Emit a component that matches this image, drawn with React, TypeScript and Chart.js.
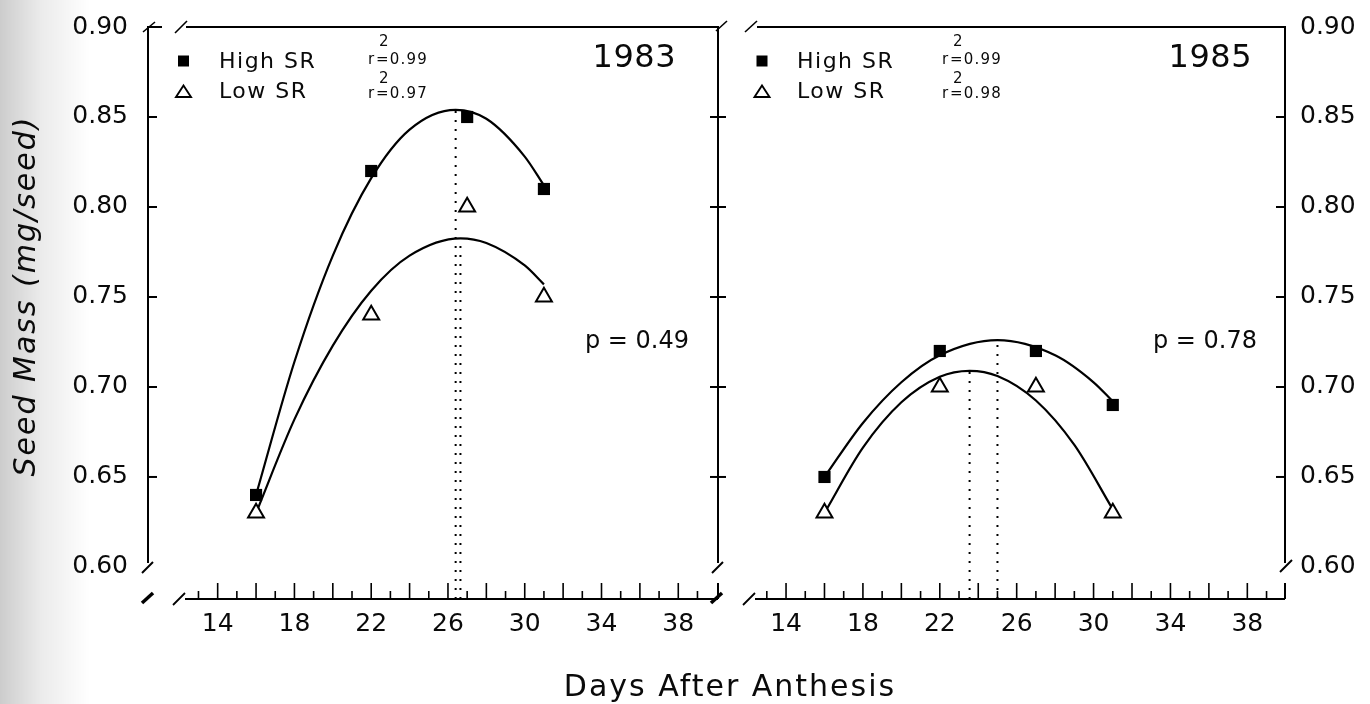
import React, { useEffect, useRef } from 'react';
import { Chart, registerables } from 'chart.js';

Chart.register(...registerables);

// ---------- data ----------
const X_TICKS = [14, 18, 22, 26, 30, 34, 38];
const Y_TICKS = [0.6, 0.65, 0.7, 0.75, 0.8, 0.85, 0.9];
const Y_MIN = 0.5822;
const Y_MAX = 0.9;

const DAYS = [16, 22, 27, 31];
const HIGH_1983 = [0.64, 0.82, 0.85, 0.81];
const LOW_1983 = [0.63, 0.74, 0.8, 0.75];
const HIGH_1985 = [0.65, 0.72, 0.72, 0.69];
const LOW_1985 = [0.63, 0.7, 0.7, 0.63];

// fitted curves
const FIT_HIGH_1983_X = [16, 18, 20, 22, 24, 26.4, 28, 30, 31];
const FIT_HIGH_1983_Y = [0.64, 0.714, 0.773, 0.816, 0.843, 0.854, 0.849, 0.828, 0.812];
const FIT_LOW_1983_X = [16, 18, 20, 22, 24, 26.65, 28, 30, 31];
const FIT_LOW_1983_Y = [0.63, 0.682, 0.723, 0.7535, 0.773, 0.7826, 0.78, 0.7675, 0.757];
const FIT_HIGH_1985_X = [16, 18, 20, 22, 25, 28, 30, 31];
const FIT_HIGH_1985_Y = [0.65, 0.68, 0.7026, 0.7176, 0.726, 0.7176, 0.7026, 0.692];
const FIT_LOW_1985_X = [16, 18, 20, 22, 23.55, 25, 27, 29, 31];
const FIT_LOW_1985_Y = [0.63, 0.6663, 0.6915, 0.7057, 0.709, 0.7061, 0.6925, 0.6678, 0.632];

// vertical dotted lines to the curve maxima [high, low]
const PEAK_X_1983 = [26.4, 26.65];
const PEAK_Y_1983 = [0.854, 0.7826];
const PEAK_X_1985 = [25.0, 23.55];
const PEAK_Y_1985 = [0.726, 0.709];

const SERIES = ['High SR', 'Low SR'];
const YEARS = ['1983', '1985'];
const R2_1983 = ['0.99', '0.97'];
const R2_1985 = ['0.99', '0.98'];
const P_VALUES = ['0.49', '0.78'];
const X_TITLE = 'Days After Anthesis';
const Y_TITLE = 'Seed Mass (mg/seed)';

// ---------- style ----------
const FONT = '"DejaVu Sans", "Liberation Sans", sans-serif';
const INK = '#0a0a0a';
const W = 1370;
const H = 704;

const PANELS = [
  {
    year: YEARS[0], high: HIGH_1983, low: LOW_1983,
    fhx: FIT_HIGH_1983_X, fhy: FIT_HIGH_1983_Y, flx: FIT_LOW_1983_X, fly: FIT_LOW_1983_Y,
    px: PEAK_X_1983, py: PEAK_Y_1983, r2: R2_1983, p: P_VALUES[0],
    xMin: 10.37, xMax: 40.07,
    pad: { left: 0, right: 652, top: 27, bottom: 0 }, yPos: 'left', yWidth: 148, yPad: 20,
    off: { sq: 35.5, text: 71, r: 220, year: 528, p: 437 },
  },
  {
    year: YEARS[1], high: HIGH_1985, low: LOW_1985,
    fhx: FIT_HIGH_1985_X, fhy: FIT_HIGH_1985_Y, flx: FIT_LOW_1985_X, fly: FIT_LOW_1985_Y,
    px: PEAK_X_1985, py: PEAK_Y_1985, r2: R2_1985, p: P_VALUES[1],
    xMin: 10.46, xMax: 39.96,
    pad: { left: 718, right: 0, top: 27, bottom: 0 }, yPos: 'right', yWidth: 85, yPad: 15,
    off: { sq: 44, text: 79, r: 224, year: 534, p: 435 },
  },
];

function decorPlugin(idx: number) {
  const P = PANELS[idx];
  return {
    id: 'decor' + idx,
    beforeDraw(chart: any) {
      if (idx !== 0) return;
      const ctx = chart.ctx;
      ctx.save();
      const g = ctx.createLinearGradient(0, 0, 90, 0);
      g.addColorStop(0, 'rgba(0,0,0,0.2)');
      g.addColorStop(0.45, 'rgba(0,0,0,0.08)');
      g.addColorStop(1, 'rgba(0,0,0,0)');
      ctx.fillStyle = g;
      ctx.fillRect(0, 0, 90, H);
      ctx.restore();
    },
    afterDraw(chart: any) {
      const ctx = chart.ctx;
      const a = chart.chartArea;
      const xs = chart.scales.x;
      const ys = chart.scales.y;
      const L = a.left, R = a.right, T = a.top, B = a.bottom;
      const y60 = ys.getPixelForValue(Y_TICKS[0]);
      ctx.save();
      ctx.strokeStyle = '#000';
      ctx.lineCap = 'butt';
      const seg = (x1: number, y1: number, x2: number, y2: number, w = 2) => {
        ctx.lineWidth = w;
        ctx.beginPath();
        ctx.moveTo(x1, y1);
        ctx.lineTo(x2, y2);
        ctx.stroke();
      };
      const inner = Y_TICKS.slice(1, -1).map((v) => ys.getPixelForValue(v));
      if (idx === 0) {
        seg(L, T - 1, L, y60 - 4);
        seg(L - 6, y60 + 6, L + 5, y60 - 5);
        seg(L - 5, T + 5, L + 7, T - 5, 1.6);
        seg(L, T, L + 14, T);
        seg(L + 27, T + 6, L + 39, T - 6, 1.6);
        seg(L + 38, T, R, T);
        seg(R, T - 1, R, y60 - 4);
        seg(R - 6, y60 + 6, R + 5, y60 - 5);
        seg(R - 2, T + 4, R + 9, T - 6, 1.6);
        inner.forEach((y) => {
          seg(L, y, L + 9, y);
          seg(R - 8, y, R + 8, y);
        });
        seg(L - 6, B + 4, L + 5, B - 6, 3.5);
        seg(R - 7, B + 4, R + 4, B - 6, 3.5);
      } else {
        seg(L + 27, T + 5, L + 39, T - 6, 1.6);
        seg(L + 39, T, R, T);
        seg(R, T - 1, R, y60 - 4);
        seg(R - 5, y60 + 5, R + 7, y60 - 7);
        inner.forEach((y) => seg(R - 9, y, R, y));
      }
      // x axis
      const xStart = L + 37;
      seg(L + 25, B + 6, L + 37, B - 6, 1.8);
      seg(xStart, B, R, B);
      seg(R, B - 16, R, B);
      for (let d = Math.ceil(xs.getValueForPixel(xStart + 2)); d < 60; d++) {
        const px = xs.getPixelForValue(d);
        if (px > R - 3) break;
        seg(px, B, px, B - (d % 2 === 0 ? 16 : 8), 1.6);
      }

      // legend
      const o = P.off;
      ctx.fillStyle = '#000';
      ctx.fillRect(L + o.sq - 5.5, 55.5, 11, 11);
      ctx.lineWidth = 1.9;
      ctx.beginPath();
      ctx.moveTo(L + o.sq, 85.5);
      ctx.lineTo(L + o.sq + 7.5, 97);
      ctx.lineTo(L + o.sq - 7.5, 97);
      ctx.closePath();
      ctx.stroke();

      ctx.fillStyle = INK;
      ctx.textBaseline = 'alphabetic';
      ctx.textAlign = 'left';
      (ctx as any).letterSpacing = '1.5px';
      ctx.font = `22px ${FONT}`;
      ctx.fillText(SERIES[0], L + o.text, 68);
      ctx.fillText(SERIES[1], L + o.text, 98);

      ctx.font = `15px ${FONT}`;
      (ctx as any).letterSpacing = '1.2px';
      const rx = L + o.r;
      ctx.fillText('r', rx, 64);
      ctx.fillText('=' + P.r2[0], rx + 8, 64);
      ctx.fillText('2', rx + 11, 46);
      ctx.fillText('r', rx, 98);
      ctx.fillText('=' + P.r2[1], rx + 8, 98);
      ctx.fillText('2', rx + 11, 83);

      (ctx as any).letterSpacing = '0.5px';
      ctx.font = `32px ${FONT}`;
      ctx.textAlign = 'right';
      ctx.fillText(P.year, L + o.year, 67);

      (ctx as any).letterSpacing = '0px';
      ctx.font = `24px ${FONT}`;
      ctx.textAlign = 'left';
      ctx.fillText('p = ' + P.p, L + o.p, 348);

      if (idx === 0) {
        (ctx as any).letterSpacing = '2px';
        ctx.font = `30px ${FONT}`;
        ctx.textAlign = 'center';
        ctx.fillText(X_TITLE, 730, 696);
        ctx.save();
        ctx.translate(27, 296);
        ctx.rotate(-Math.PI / 2);
        ctx.font = `oblique 30px ${FONT}`;
        ctx.textBaseline = 'middle';
        ctx.fillText(Y_TITLE, 0, 0);
        ctx.restore();
        (ctx as any).letterSpacing = '0px';
      }
      ctx.restore();
    },
  };
}

function buildConfig(idx: number): any {
  const P = PANELS[idx];
  const pts = (xs: number[], ys: number[]) => xs.map((x, i) => ({ x, y: ys[i] }));
  const vline = (x: number, y: number) => [{ x, y: Y_MIN }, { x, y }];
  const curve = { showLine: true, pointRadius: 0, borderColor: '#000', borderWidth: 2.2, cubicInterpolationMode: 'monotone', fill: false };
  const dotted = { showLine: true, pointRadius: 0, borderColor: '#000', borderWidth: 2, borderDash: [2, 7], fill: false };
  return {
    type: 'line',
    data: {
      datasets: [
        { label: SERIES[0], data: pts(DAYS, P.high), showLine: false, pointStyle: 'rect', pointRadius: 8.6, pointBackgroundColor: '#000', pointBorderColor: '#000', pointBorderWidth: 0 },
        { label: SERIES[1], data: pts(DAYS, P.low), showLine: false, pointStyle: 'triangle', pointRadius: 9.2, pointBackgroundColor: '#fff', pointBorderColor: '#000', pointBorderWidth: 2 },
        { label: 'fit high', data: pts(P.fhx, P.fhy), ...curve },
        { label: 'fit low', data: pts(P.flx, P.fly), ...curve },
        { label: 'max high', data: vline(P.px[0], P.py[0]), ...dotted },
        { label: 'max low', data: vline(P.px[1], P.py[1]), ...dotted },
      ],
    },
    options: {
      animation: false,
      responsive: false,
      maintainAspectRatio: false,
      events: [],
      layout: { padding: P.pad, autoPadding: false },
      plugins: { legend: { display: false }, tooltip: { enabled: false } },
      scales: {
        x: {
          type: 'linear', position: 'bottom', min: P.xMin, max: P.xMax,
          grid: { display: false, drawTicks: false }, border: { display: false },
          afterBuildTicks: (s: any) => { s.ticks = X_TICKS.map((v) => ({ value: v })); },
          afterFit: (s: any) => { s.height = 105; s.paddingLeft = 0; s.paddingRight = 0; },
          ticks: { color: INK, font: { family: FONT, size: 25, lineHeight: 1.2 }, padding: 10, maxRotation: 0, autoSkip: false, callback: (v: any) => String(v) },
        },
        y: {
          type: 'linear', position: P.yPos, min: Y_MIN, max: Y_MAX,
          grid: { display: false, drawTicks: false }, border: { display: false },
          afterBuildTicks: (s: any) => { s.ticks = Y_TICKS.map((v) => ({ value: v })); },
          afterFit: (s: any) => { s.width = P.yWidth; s.paddingTop = 0; s.paddingBottom = 0; },
          ticks: { color: INK, font: { family: FONT, size: 25 }, padding: P.yPad, autoSkip: false, callback: (v: any) => Number(v).toFixed(2) },
        },
      },
    },
    plugins: [decorPlugin(idx)],
  };
}

export default function App() {
  const leftRef = useRef<HTMLCanvasElement>(null);
  const rightRef = useRef<HTMLCanvasElement>(null);
  useEffect(() => {
    const c1 = new Chart(leftRef.current as HTMLCanvasElement, buildConfig(0));
    const c2 = new Chart(rightRef.current as HTMLCanvasElement, buildConfig(1));
    return () => {
      c1.destroy();
      c2.destroy();
    };
  }, []);
  const cs: React.CSSProperties = { position: 'absolute', left: 0, top: 0 };
  return (
    <div style={{ position: 'absolute', left: 0, top: 0, width: W, height: H, background: '#fff', overflow: 'hidden' }}>
      <canvas ref={leftRef} width={W} height={H} style={cs} />
      <canvas ref={rightRef} width={W} height={H} style={cs} />
    </div>
  );
}
